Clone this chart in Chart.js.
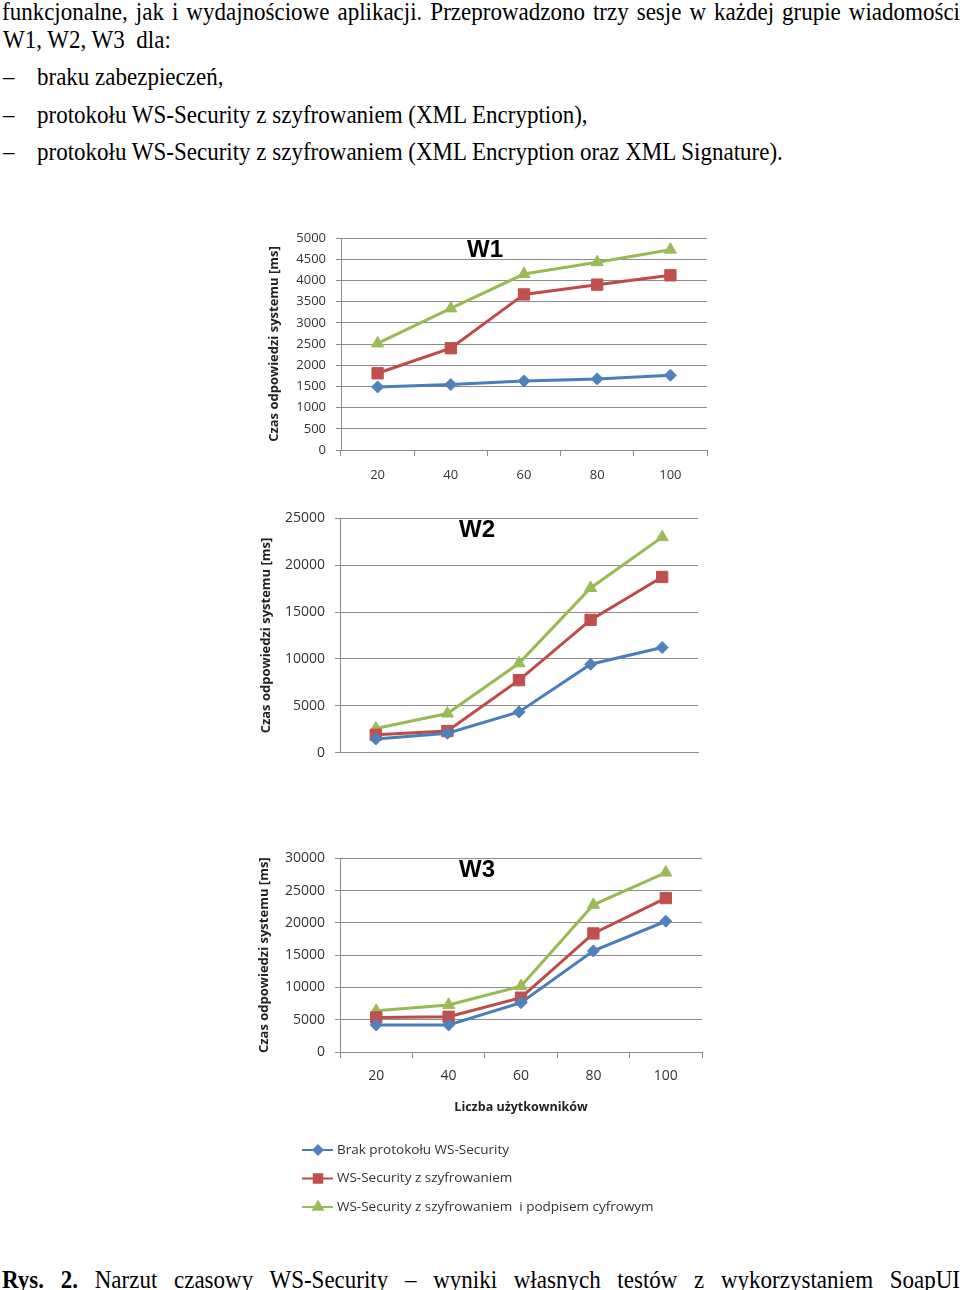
<!DOCTYPE html>
<html lang="pl">
<head>
<meta charset="UTF-8" />
<title>Narzut czasowy WS-Security</title>
<script src="https://cdn.jsdelivr.net/npm/chart.js"></script>
<style>
  body {
    margin: 0;
    width: 960px;
    height: 1290px;
    position: relative;
    overflow: hidden;
    background: #fff;
    color: #000;
    font-family: "Liberation Serif", "Times New Roman", serif;
  }
  /* page text, slightly stretched like the scanned pdf */
  .line {
    position: absolute;
    left: 0;
    height: 24px;
    font-size: 23px;
    line-height: 24px;
    white-space: nowrap;
    transform: scaleY(1.12);
    transform-origin: 0 50%;
  }
  .just {
    width: 958px;
    left: 2px;
    white-space: normal;
    text-align: justify;
    text-align-last: justify;
  }
  .dash { left: 3px; }
  .item { left: 37px; }
  canvas { position: absolute; }
</style>
</head>
<body>
  <div class="line just" style="top:0px">funkcjonalne, jak i wydajnościowe aplikacji. Przeprowadzono trzy sesje w każdej grupie wiadomości</div>
  <div class="line" style="top:28px; left:3px">W1, W2, W3&nbsp; dla:</div>
  <div class="line dash" style="top:65px">–</div>
  <div class="line item" style="top:65px">braku zabezpieczeń,</div>
  <div class="line dash" style="top:103px">–</div>
  <div class="line item" style="top:103px">protokołu WS-Security z szyfrowaniem (XML Encryption),</div>
  <div class="line dash" style="top:140px">–</div>
  <div class="line item" style="top:140px">protokołu WS-Security z szyfrowaniem (XML Encryption oraz XML Signature).</div>

  <canvas id="w1" width="470" height="270" style="left:250px; top:220px"></canvas>
  <canvas id="w2" width="470" height="271" style="left:250px; top:500px"></canvas>
  <canvas id="w3" width="470" height="390" style="left:250px; top:840px"></canvas>

  <div class="line just" style="top:1268px"><b>Rys.</b> <b>2.</b> Narzut czasowy WS-Security – wyniki własnych testów z wykorzystaniem SoapUI</div>

<script>
  // liczba użytkowników
  const users = ["20", "40", "60", "80", "100"];
  const seriesNames = [
    "Brak protokołu WS-Security",
    "WS-Security z szyfrowaniem",
    "WS-Security z szyfrowaniem  i podpisem cyfrowym",
  ];

  // W1 [ms]
  const w1Brak = [1488, 1543, 1630, 1677, 1763];
  const w1Szyfr = [1810, 2400, 3670, 3900, 4120];
  const w1Podpis = [2514, 3340, 4150, 4430, 4725];

  // W2 [ms]
  const w2Brak = [1453, 2066, 4345, 9430, 11220];
  const w2Szyfr = [1900, 2300, 7730, 14170, 18750];
  const w2Podpis = [2570, 4170, 9530, 17570, 23000];

  // W3 [ms]
  const w3Brak = [4190, 4190, 7650, 15670, 20260];
  const w3Szyfr = [5360, 5460, 8420, 18370, 23850];
  const w3Podpis = [6380, 7300, 10200, 22810, 27810];

  const colors = ["#4F81BD", "#C0504D", "#9BBB59"];
  const lineColors = ["#4A7EBB", "#BE4B48", "#98B954"];
  const styles = ["rectRot", "rect", "triangle"];
  const radii = [6, 8, 7];
  const gridColor = "#8c8c8c";

  Chart.defaults.font.family = '"Open Sans", sans-serif';
  Chart.defaults.color = "#333";

  function datasets(a, b, c) {
    return [a, b, c].map((data, i) => ({
      label: seriesNames[i],
      data,
      borderColor: lineColors[i],
      backgroundColor: colors[i],
      pointBackgroundColor: colors[i],
      pointBorderColor: colors[i],
      pointStyle: styles[i],
      pointRadius: radii[i],
      pointBorderWidth: 1,
      borderWidth: 3,
      tension: 0,
      fill: false,
    }));
  }

  // big "W1"/"W2"/"W3" inside the plot
  const innerTitle = {
    id: "innerTitle",
    beforeDatasetsDraw(chart, args, opts) {
      if (!opts.text) return;
      const { ctx, chartArea } = chart;
      ctx.save();
      ctx.font = 'bold 24px "Liberation Sans", Arial, sans-serif';
      ctx.fillStyle = "#000";
      ctx.textAlign = "center";
      ctx.textBaseline = "middle";
      ctx.fillText(opts.text, chartArea.left + opts.dx, chartArea.top + opts.dy);
      ctx.restore();
    },
  };

  // vertical legend with line + marker, like excel
  const lineLegend = {
    id: "lineLegend",
    afterDraw(chart, args, opts) {
      if (!opts.show) return;
      const ctx = chart.ctx;
      const small = [4.5, 6, 5.5];
      chart.data.datasets.forEach((ds, i) => {
        const y = opts.y + i * opts.gap;
        ctx.save();
        ctx.strokeStyle = ds.borderColor;
        ctx.lineWidth = 2;
        ctx.beginPath();
        ctx.moveTo(opts.x, y);
        ctx.lineTo(opts.x + 31, y);
        ctx.stroke();
        ctx.fillStyle = ds.pointBackgroundColor;
        ctx.strokeStyle = ds.pointBorderColor;
        Chart.helpers.drawPoint(ctx, { pointStyle: ds.pointStyle, radius: small[i], rotation: 0, borderWidth: 1 }, opts.x + 16, y);
        ctx.fillStyle = "#333";
        ctx.font = '13.5px "Open Sans", sans-serif';
        ctx.textBaseline = "middle";
        ctx.fillText(ds.label, opts.x + 35, y);
        ctx.restore();
      });
    },
  };

  function makeChart(id, cfg) {
    return new Chart(document.getElementById(id), {
      type: "line",
      data: { labels: users, datasets: cfg.data },
      plugins: [innerTitle, lineLegend],
      options: {
        responsive: false,
        animation: false,
        layout: { padding: cfg.padding },
        plugins: {
          legend: { display: false },
          tooltip: { enabled: false },
          innerTitle: { text: cfg.title, dx: cfg.titleDx, dy: 12 },
          lineLegend: cfg.legend || { show: false },
        },
        scales: {
          x: {
            offset: true,
            grid: {
              offset: true,
              drawOnChartArea: false,
              drawTicks: cfg.xTicks,
              tickLength: 6,
              color: gridColor,
            },
            border: { color: gridColor, width: 1 },
            ticks: {
              display: cfg.xTicks,
              padding: cfg.xPad,
              font: { size: cfg.fontSize },
              color: "#333",
            },
            title: {
              display: !!cfg.xTitle,
              text: cfg.xTitle || "",
              font: { size: 12.5, weight: "bold" },
              color: "#222",
              padding: { top: 4, bottom: 7 },
            },
            afterFit(s) { s.height = cfg.xHeight; },
          },
          y: {
            min: 0,
            max: cfg.yMax,
            grid: { color: gridColor, tickLength: 5 },
            border: { color: gridColor, width: 1 },
            ticks: {
              stepSize: cfg.yStep,
              padding: 10,
              font: { size: cfg.fontSize },
              color: "#333",
              callback: (v) => String(v),
            },
            title: {
              display: true,
              text: "Czas odpowiedzi systemu [ms]",
              font: { size: 13, weight: "bold" },
              color: "#222",
              padding: { top: 4, bottom: 4 },
            },
            afterFit(s) { s.width = cfg.yWidth; },
          },
        },
      },
    });
  }

  makeChart("w1", {
    data: datasets(w1Brak, w1Szyfr, w1Podpis),
    yMax: 5000, yStep: 500, fontSize: 13,
    padding: { top: 18, left: 12, right: 13, bottom: 0 },
    yWidth: 79, xHeight: 40, xTicks: true, xPad: 11,
    title: "W1", titleDx: 144,
  });

  makeChart("w2", {
    data: datasets(w2Brak, w2Szyfr, w2Podpis),
    yMax: 25000, yStep: 5000, fontSize: 14,
    padding: { top: 15, left: 4, right: 22, bottom: 0 },
    yWidth: 86, xHeight: 10, xTicks: false, xPad: 0,
    title: "W2", titleDx: 137,
  });

  makeChart("w3", {
    data: datasets(w3Brak, w3Szyfr, w3Podpis),
    yMax: 30000, yStep: 5000, fontSize: 14,
    padding: { top: 16, left: 2, right: 18, bottom: 108 },
    yWidth: 88, xHeight: 70, xTicks: true, xPad: 10,
    xTitle: "Liczba użytkowników",
    title: "W3", titleDx: 137,
    legend: { show: true, x: 52, y: 310, gap: 28.5 },
  });
</script>
</body>
</html>
